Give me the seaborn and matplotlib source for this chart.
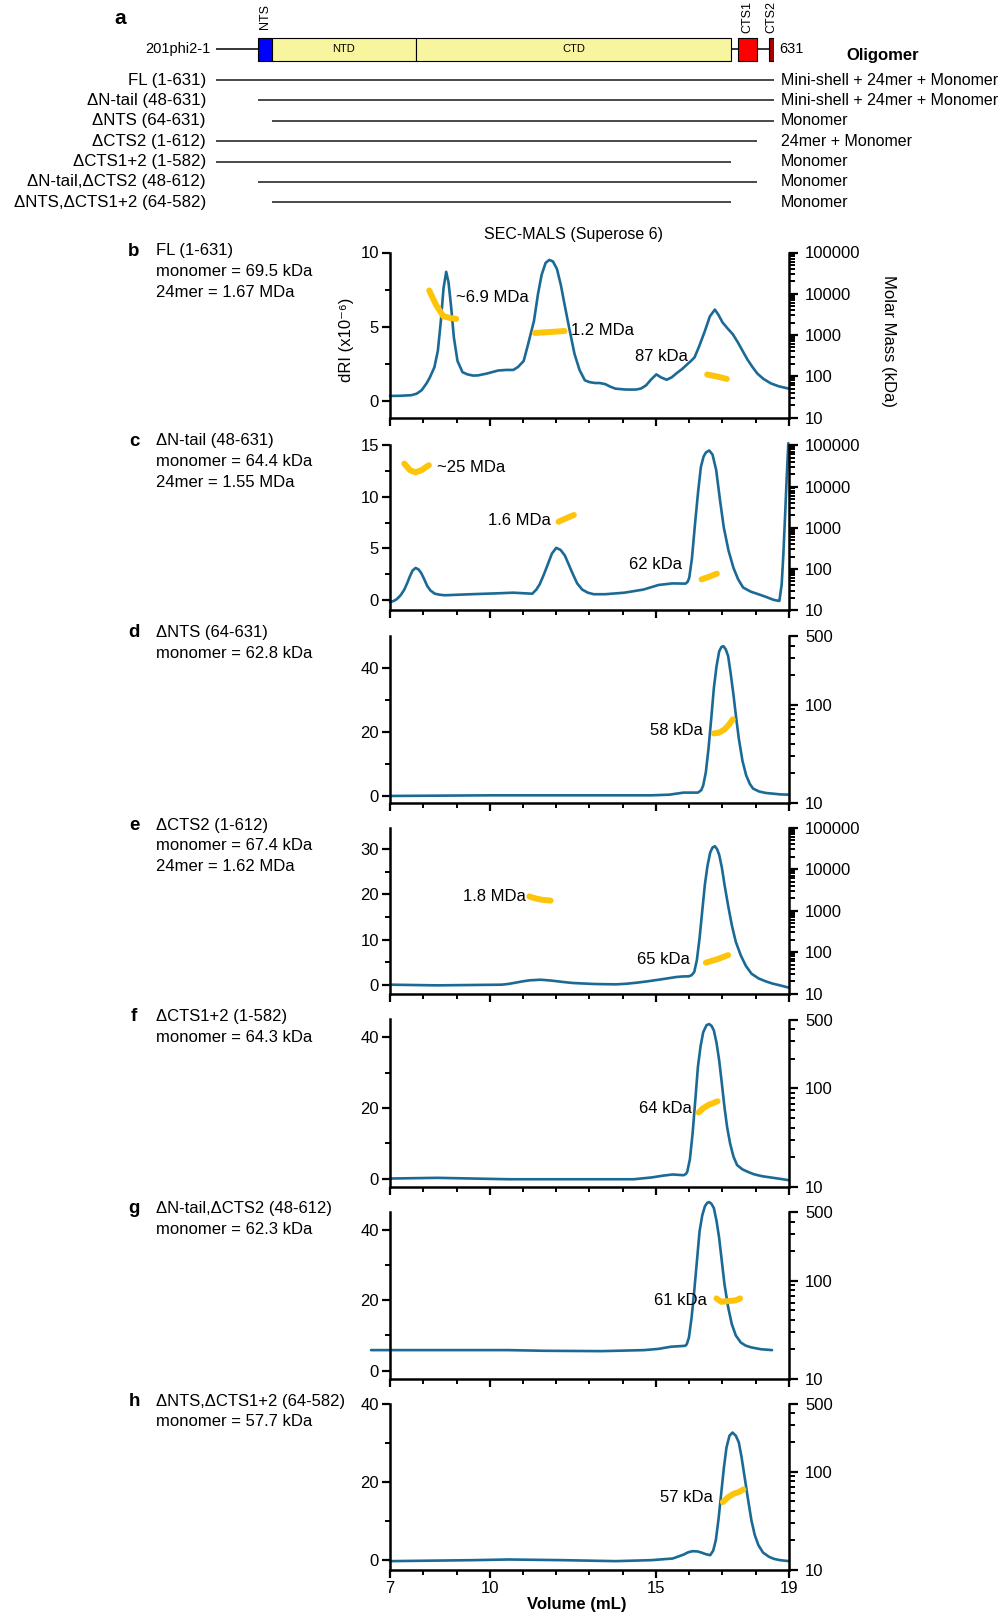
import matplotlib
matplotlib.use("Agg")
import matplotlib.pyplot as plt
import matplotlib.ticker as mticker
import matplotlib.transforms as mtransforms
import seaborn as sns

W, H = 1003, 1616
BLUE = "#1b6a96"
YELLOW = "#fdc40a"

# ---- panel a: construct schematic ----
constructs = ["FL (1-631)", "ΔN-tail (48-631)", "ΔNTS (64-631)", "ΔCTS2 (1-612)",
              "ΔCTS1+2 (1-582)", "ΔN-tail,ΔCTS2 (48-612)", "ΔNTS,ΔCTS1+2 (64-582)"]
construct_start = [1, 48, 64, 1, 1, 48, 64]
construct_end = [631, 631, 631, 612, 582, 612, 582]
oligomers = ["Mini-shell + 24mer + Monomer", "Mini-shell + 24mer + Monomer", "Monomer",
             "24mer + Monomer", "Monomer", "Monomer", "Monomer"]
domain_names = ["NTS", "NTD", "CTD", "CTS1", "CTS2"]
domain_start = [48, 64, 227, 590, 625]
domain_end = [64, 227, 582, 612, 631]
domain_colors = ["#0000ff", "#f7f59e", "#f7f59e", "#ff0000", "#a80000"]

# ---- SEC-MALS traces (volume in mL, dRI x1e-6) ----
b_vol = [7.0, 7.3, 7.64, 7.8, 7.95, 8.1, 8.2, 8.335, 8.44, 8.53, 8.61, 8.69, 8.76, 8.84,
         8.92, 9.03, 9.18, 9.33, 9.5, 9.64, 9.9, 10.25, 10.5, 10.71, 10.85, 11.02, 11.15,
         11.33, 11.45, 11.56, 11.68, 11.79, 11.9, 12.02, 12.14, 12.25, 12.4, 12.55, 12.7,
         12.86, 13.0, 13.17, 13.3, 13.47, 13.62, 13.78, 14.1, 14.4, 14.55, 14.7, 14.85,
         15.01, 15.15, 15.32, 15.47, 15.62, 15.78, 15.93, 16.05, 16.16, 16.3, 16.47, 16.62,
         16.77, 16.88, 17.0, 17.15, 17.31, 17.45, 17.6, 17.75, 17.9, 18.05, 18.23, 18.45,
         18.69, 19.0]
b_dri = [0.35, 0.36, 0.4, 0.5, 0.73, 1.2, 1.6, 2.28, 3.4, 5.4, 7.6, 8.7, 8.0, 6.3,
         4.3, 2.7, 1.95, 1.8, 1.72, 1.73, 1.85, 2.06, 2.1, 2.1, 2.3, 2.7, 3.8,
         5.4, 7.2, 8.5, 9.3, 9.5, 9.4, 8.9, 7.8, 6.5, 4.8, 3.17, 2.1,
         1.4, 1.28, 1.22, 1.22, 1.15, 0.98, 0.84, 0.78, 0.78, 0.85, 1.06, 1.45,
         1.8, 1.6, 1.44, 1.6, 1.88, 2.15, 2.46, 2.7, 2.95, 3.7, 4.72, 5.7,
         6.16, 5.8, 5.3, 4.9, 4.5, 4.0, 3.4, 2.8, 2.3, 1.85, 1.5, 1.2,
         1.0, 0.84]
c_vol = [7.0, 7.1, 7.2, 7.32, 7.43, 7.52, 7.6, 7.68, 7.77, 7.86, 7.94, 8.03, 8.12, 8.22,
         8.35, 8.5, 8.64, 9.44, 10.25, 10.7, 11.28, 11.4, 11.5, 11.62, 11.74, 11.87, 12.0,
         12.13, 12.26, 12.38, 12.5, 12.63, 12.78, 12.95, 13.13, 13.47, 14.05, 14.62, 15.08,
         15.49, 15.89, 15.95, 16.0, 16.08, 16.18, 16.27, 16.35, 16.43, 16.5, 16.6, 16.7,
         16.81, 16.92, 17.04, 17.18, 17.33, 17.47, 17.62, 17.85, 18.08, 18.3, 18.54, 18.71,
         18.78, 18.83, 18.88, 18.93, 18.98]
c_dri = [-0.2, -0.12, 0.06, 0.45, 1.0, 1.65, 2.3, 2.85, 3.1, 2.95, 2.6, 2.0, 1.35, 0.9,
         0.6, 0.5, 0.45, 0.55, 0.64, 0.7, 0.6, 1.0, 1.5, 2.4, 3.4, 4.5, 5.05,
         4.85, 4.3, 3.4, 2.5, 1.6, 1.0, 0.7, 0.55, 0.55, 0.7, 1.0, 1.45,
         1.6, 1.58, 1.75, 2.15, 4.0, 7.6, 10.6, 12.9, 13.9, 14.3, 14.5, 14.1,
         12.6, 9.8, 7.0, 4.8, 3.1, 2.0, 1.2, 0.8, 0.55, 0.3, 0.0, -0.1,
         1.5, 4.4, 8.0, 11.8, 15.2]
d_vol = [7.0, 10.03, 12.71, 14.86, 15.4, 15.83, 16.26, 16.36, 16.42, 16.5, 16.58, 16.66,
         16.74, 16.82, 16.9, 16.97, 17.03, 17.1, 17.17, 17.25, 17.33, 17.41, 17.49, 17.6,
         17.71, 17.82, 17.92, 18.1, 18.3, 18.73, 19.0]
d_dri = [0.0, 0.2, 0.2, 0.2, 0.4, 1.05, 1.05, 1.8, 3.3, 7.5, 14.9, 24.0,
         33.7, 40.5, 45.2, 46.6, 46.8, 45.8, 43.7, 38.0, 31.6, 24.5, 18.0, 11.0,
         6.5, 3.8, 2.3, 1.4, 0.94, 0.5, 0.4]
e_vol = [7.0, 8.42, 10.35, 10.55, 10.78, 11.0, 11.21, 11.53, 11.86, 12.2, 12.5, 13.14,
         13.79, 14.1, 14.43, 14.75, 15.08, 15.35, 15.61, 15.8, 15.99, 16.07, 16.15, 16.23,
         16.31, 16.39, 16.47, 16.55, 16.63, 16.7, 16.77, 16.84, 16.9, 16.98, 17.06, 17.17,
         17.28, 17.4, 17.55, 17.7, 17.87, 18.08, 18.3, 18.5, 18.73, 19.0]
e_dri = [0.0, -0.15, 0.0, 0.15, 0.45, 0.75, 0.97, 1.1, 0.9, 0.6, 0.37, 0.15,
         0.07, 0.2, 0.45, 0.75, 1.1, 1.4, 1.7, 1.82, 1.86, 2.1, 2.8, 5.5,
         10.3, 16.3, 22.2, 26.4, 29.3, 30.4, 30.7, 30.0, 28.8, 26.0, 22.2, 17.5,
         13.2, 9.5, 6.5, 4.2, 2.45, 1.4, 0.74, 0.25, -0.15, -0.67]
f_vol = [7.0, 8.42, 10.57, 12.71, 14.33, 14.86, 15.2, 15.5, 15.83, 15.9, 15.94, 16.02,
         16.1, 16.18, 16.26, 16.34, 16.42, 16.52, 16.6, 16.67, 16.74, 16.82, 16.9, 16.98,
         17.06, 17.14, 17.23, 17.33, 17.44, 17.6, 17.76, 17.95, 18.19, 18.6, 19.0]
f_dri = [0.0, 0.2, -0.2, -0.2, -0.2, 0.3, 0.8, 1.15, 0.94, 1.3, 1.9, 5.5,
         12.7, 22.0, 31.6, 37.5, 41.5, 43.5, 43.8, 43.3, 42.0, 38.5, 33.5, 27.0,
         20.2, 14.5, 9.9, 6.2, 3.8, 2.6, 1.9, 1.2, 0.66, 0.1, -0.47]
g_vol = [6.43, 8.42, 10.57, 11.64, 13.36, 14.65, 15.08, 15.45, 15.88, 15.93, 15.99, 16.07,
         16.15, 16.23, 16.31, 16.39, 16.47, 16.54, 16.6, 16.67, 16.74, 16.82, 16.9, 16.98,
         17.06, 17.17, 17.28, 17.4, 17.55, 17.7, 17.87, 18.15, 18.49]
g_dri = [5.84, 5.84, 5.84, 5.65, 5.55, 5.84, 6.2, 6.8, 7.06, 7.6, 9.4, 15.0,
         22.6, 31.0, 39.5, 44.0, 46.6, 47.6, 47.8, 47.3, 46.1, 42.5, 37.6, 31.0,
         24.5, 18.0, 13.2, 10.0, 8.0, 7.1, 6.6, 6.1, 5.84]
h_vol = [7.0, 9.49, 10.57, 12.18, 13.79, 14.86, 15.5, 15.7, 15.83, 15.97, 16.1, 16.25,
         16.37, 16.5, 16.63, 16.72, 16.8, 16.88, 16.96, 17.04, 17.12, 17.21, 17.3, 17.4,
         17.49, 17.57, 17.65, 17.76, 17.87, 17.97, 18.08, 18.22, 18.4, 18.55, 18.73, 19.0]
h_dri = [-0.17, 0.08, 0.25, 0.08, -0.17, 0.08, 0.5, 1.1, 1.5, 2.1, 2.37, 2.3,
         2.0, 1.6, 1.35, 2.5, 5.2, 10.5, 17.0, 23.5, 28.8, 31.8, 32.6, 31.8,
         30.1, 26.5, 22.1, 16.0, 10.2, 6.5, 3.9, 2.0, 0.93, 0.4, 0.08, -0.17]

# ---- MALS molar mass segments (kDa) ----
b_mass_vol = [[8.18, 8.38, 8.6, 8.8, 8.99], [11.36, 11.8, 12.25], [16.54, 16.85, 17.13]]
b_mass_kda = [[12000, 5450, 2860, 2600, 2460], [1120, 1180, 1250], [110, 98, 86]]
c_mass_vol = [[7.43, 7.6, 7.77, 7.95, 8.17], [12.07, 12.3, 12.53], [16.37, 16.6, 16.83]]
c_mass_kda = [[36000, 25000, 22000, 25000, 33000], [1400, 1700, 2040], [56, 65, 77]]
d_mass_vol = [[16.74, 16.9, 17.06, 17.2, 17.31]]
d_mass_kda = [[51, 52, 56, 63, 71]]
e_mass_vol = [[11.19, 11.4, 11.6, 11.83], [16.5, 16.85, 17.17]]
e_mass_kda = [[2200, 1950, 1820, 1750], [56, 68, 85]]
f_mass_vol = [[16.28, 16.42, 16.58, 16.72, 16.85]]
f_mass_kda = [[57, 63, 68, 71, 74]]
g_mass_vol = [[16.82, 16.96, 17.17, 17.39, 17.53]]
g_mass_kda = [[66, 61, 62, 63, 66]]
h_mass_vol = [[17.01, 17.17, 17.33, 17.49, 17.63]]
h_mass_kda = [[49, 55, 59.5, 62, 66]]

b_info = ["FL (1-631)", "monomer = 69.5 kDa", "24mer = 1.67 MDa"]
c_info = ["ΔN-tail (48-631)", "monomer = 64.4 kDa", "24mer = 1.55 MDa"]
d_info = ["ΔNTS (64-631)", "monomer = 62.8 kDa"]
e_info = ["ΔCTS2 (1-612)", "monomer = 67.4 kDa", "24mer = 1.62 MDa"]
f_info = ["ΔCTS1+2 (1-582)", "monomer = 64.3 kDa"]
g_info = ["ΔN-tail,ΔCTS2 (48-612)", "monomer = 62.3 kDa"]
h_info = ["ΔNTS,ΔCTS1+2 (64-582)", "monomer = 57.7 kDa"]

BIG = [10, 100, 1000, 10000, 100000]
SMALL = [10, 100, 500]

PANELS = [
    dict(letter="b", info=b_info, vol=b_vol, dri=b_dri, mv=b_mass_vol, mk=b_mass_kda,
         top=252.5, bottom=417.5, text_y=249.5, ylim=(-1.1, 10), yt=[0, 5, 10], ym=[2.5, 7.5],
         rtop=1e5, rt=BIG,
         labels=[("~6.9 MDa", 8.98, 6.94, "left"), ("1.2 MDa", 12.45, 4.72, "left"),
                 ("87 kDa", 14.37, 3.0, "left")]),
    dict(letter="c", info=c_info, vol=c_vol, dri=c_dri, mv=c_mass_vol, mk=c_mass_kda,
         top=445.3, bottom=610.2, text_y=439.5, ylim=(-1.0, 15), yt=[0, 5, 10, 15], ym=[2.5, 7.5, 12.5],
         rtop=1e5, rt=BIG,
         labels=[("~25 MDa", 8.42, 12.86, "left"), ("1.6 MDa", 11.84, 7.68, "right"),
                 ("62 kDa", 14.2, 3.44, "left")]),
    dict(letter="d", info=d_info, vol=d_vol, dri=d_dri, mv=d_mass_vol, mk=d_mass_kda,
         top=636, bottom=803, text_y=631, ylim=(-2.2, 50), yt=[0, 20, 40], ym=[10, 30],
         rtop=500, rt=SMALL, labels=[("58 kDa", 16.42, 20.6, "right")]),
    dict(letter="e", info=e_info, vol=e_vol, dri=e_dri, mv=e_mass_vol, mk=e_mass_kda,
         top=827.7, bottom=993.7, text_y=823.6, ylim=(-2.0, 34.8), yt=[0, 10, 20, 30], ym=[5, 15, 25],
         rtop=1e5, rt=BIG,
         labels=[("1.8 MDa", 11.08, 19.55, "right"), ("65 kDa", 16.02, 5.6, "right")]),
    dict(letter="f", info=f_info, vol=f_vol, dri=f_dri, mv=f_mass_vol, mk=f_mass_kda,
         top=1019.5, bottom=1187, text_y=1015.3, ylim=(-2.4, 45.1), yt=[0, 20, 40], ym=[10, 30],
         rtop=500, rt=SMALL, labels=[("64 kDa", 16.07, 19.8, "right")]),
    dict(letter="g", info=g_info, vol=g_vol, dri=g_dri, mv=g_mass_vol, mk=g_mass_kda,
         top=1212, bottom=1379, text_y=1207, ylim=(-2.35, 45), yt=[0, 20, 40], ym=[10, 30],
         rtop=500, rt=SMALL, labels=[("61 kDa", 16.53, 19.95, "right")]),
    dict(letter="h", info=h_info, vol=h_vol, dri=h_dri, mv=h_mass_vol, mk=h_mass_kda,
         top=1403.5, bottom=1569.5, text_y=1399.8, ylim=(-2.3, 40), yt=[0, 20, 40], ym=[10, 30],
         rtop=500, rt=SMALL, labels=[("57 kDa", 16.72, 16.0, "right")]),
]

AX_LEFT, AX_RIGHT = 390, 789
LINE_H = 20.6


def setup_style() -> None:
    sns.set_theme(style="ticks")
    plt.rcParams["font.family"] = ["Liberation Sans", "DejaVu Sans"]
    plt.rcParams["axes.edgecolor"] = "black"
    plt.rcParams["xtick.color"] = "black"
    plt.rcParams["ytick.color"] = "black"
    plt.rcParams["text.color"] = "black"
    plt.rcParams["axes.unicode_minus"] = False


def ftext(fig, x, y, s, **kw):
    fig.text(x / W, 1 - y / H, s, **kw)


def draw_schematic(fig) -> None:
    rows = list(range(len(constructs)))
    ax = fig.add_axes([216 / W, 1 - 220 / H, (774 - 216) / W, 220 / H])
    ax.set_xlim(1, 631)
    ax.set_ylim(6.863, -3.922)
    ax.axis("off")
    bar_row = -1.5
    ax.hlines(bar_row, 1, 631, color="black", lw=1.1, zorder=1)
    widths = [e - s for s, e in zip(domain_start, domain_end)]
    ax.barh([bar_row] * len(domain_names), widths, left=domain_start, height=1.13,
            color=domain_colors, edgecolor="black", linewidth=0.8, zorder=2)
    for name, s, e in zip(domain_names, domain_start, domain_end):
        mid = (s + e) / 2
        if name in ("NTD", "CTD"):
            ax.text(mid, bar_row, name, ha="center", va="center", fontsize=8, zorder=3)
        else:
            ax.text(mid, -3.1, name, ha="center", va="center", rotation=90, fontsize=9)
    ax.annotate("631", xy=(631, bar_row), xytext=(3.5, 0), textcoords="offset points",
                ha="left", va="center", fontsize=10.5)
    blend = mtransforms.blended_transform_factory(fig.transFigure, ax.transData)
    ax.text(211 / W, bar_row, "201phi2-1", transform=blend, ha="right", va="center", fontsize=10.5)
    ax.text(883 / W, -1.18, "Oligomer", transform=blend, ha="center", va="center",
            fontsize=12, fontweight="bold")

    ax.hlines(rows, construct_start, construct_end, color="#3a3a3a", lw=1.3)
    for r, name, olig in zip(rows, constructs, oligomers):
        ax.text(206 / W, r, name, transform=blend, ha="right", va="center", fontsize=12.2)
        ax.text(781 / W, r, olig, transform=blend, ha="left", va="center", fontsize=11.5)
    ftext(fig, 120.6, 18.6, "a", fontsize=15, fontweight="bold", ha="center", va="center")


def draw_panel(fig, p, last) -> None:
    rect = [AX_LEFT / W, 1 - p["bottom"] / H, (AX_RIGHT - AX_LEFT) / W, (p["bottom"] - p["top"]) / H]
    ax = fig.add_axes(rect)
    ax.patch.set_alpha(0)
    ax2 = ax.twinx()

    sns.lineplot(x=p["vol"], y=p["dri"], ax=ax, color=BLUE, lw=1.9, sort=False,
                 estimator=None, clip_on=False)
    ax.set_xlim(7, 19)
    ax.set_ylim(*p["ylim"])

    ax2.set_yscale("log")
    for vv, kk in zip(p["mv"], p["mk"]):
        sns.lineplot(x=vv, y=kk, ax=ax2, color=YELLOW, lw=4.3, sort=False, estimator=None,
                     solid_capstyle="round")
    ax2.set_ylim(10, p["rtop"])
    ax2.set_xlim(7, 19)

    for txt, x, y, ha in p["labels"]:
        ax.text(x, y, txt, ha=ha, va="center", fontsize=12)

    ax.xaxis.set_major_locator(mticker.FixedLocator([7, 10, 15, 19]))
    ax.xaxis.set_minor_locator(mticker.FixedLocator(list(range(8, 19))))
    ax.yaxis.set_major_locator(mticker.FixedLocator(p["yt"]))
    ax.yaxis.set_minor_locator(mticker.FixedLocator(p["ym"]))
    ax.yaxis.set_major_formatter(mticker.FixedFormatter([str(v) for v in p["yt"]]))
    ax2.yaxis.set_major_locator(mticker.FixedLocator(p["rt"]))
    ax2.yaxis.set_major_formatter(mticker.FixedFormatter([str(v) for v in p["rt"]]))
    ax2.yaxis.set_minor_locator(mticker.LogLocator(base=10, subs=range(2, 10), numticks=20))
    ax2.yaxis.set_minor_formatter(mticker.NullFormatter())

    for a in (ax, ax2):
        for s in a.spines.values():
            s.set_linewidth(1.8)
    ax.spines["top"].set_visible(False)
    ax.spines["right"].set_visible(False)
    for side in ("left", "top", "bottom"):
        ax2.spines[side].set_visible(False)

    ax.tick_params(which="major", length=6, width=1.6, labelsize=12, pad=2, direction="out")
    ax.tick_params(which="minor", length=3.5, width=1.4, direction="out")
    ax2.tick_params(which="major", length=6.5, width=1.6, labelsize=12, pad=5, direction="out")
    ax2.tick_params(which="minor", length=4.5, width=1.4, direction="out")
    ax.tick_params(axis="x", labelbottom=last)
    ax.set_xlabel("")
    ax.set_ylabel("")
    ax2.set_ylabel("")

    base = p["text_y"] + 6
    ftext(fig, 134, base, p["letter"], fontsize=13.5, fontweight="bold", ha="center", va="baseline")
    for i, line in enumerate(p["info"]):
        ftext(fig, 156, base + i * LINE_H, line, fontsize=12, ha="left", va="baseline")


def main() -> None:
    setup_style()
    fig = plt.figure(figsize=(W / 100, H / 100), dpi=100)
    fig.patch.set_facecolor("white")
    draw_schematic(fig)
    for i, p in enumerate(PANELS):
        draw_panel(fig, p, i == len(PANELS) - 1)

    ftext(fig, 574, 235, "SEC-MALS (Superose 6)", fontsize=11.5, ha="center", va="center")
    ftext(fig, 346.5, 340, "dRI (x10⁻⁶)", fontsize=12, rotation=90, ha="center", va="center")
    ftext(fig, 888.5, 341, "Molar Mass (kDa)", fontsize=12, rotation=270, ha="center", va="center")
    ftext(fig, 577, 1605, "Volume (mL)", fontsize=12, fontweight="bold", ha="center", va="center")

    fig.savefig("out.png", dpi=100, facecolor="white")
    plt.close(fig)


if __name__ == "__main__":
    main()
